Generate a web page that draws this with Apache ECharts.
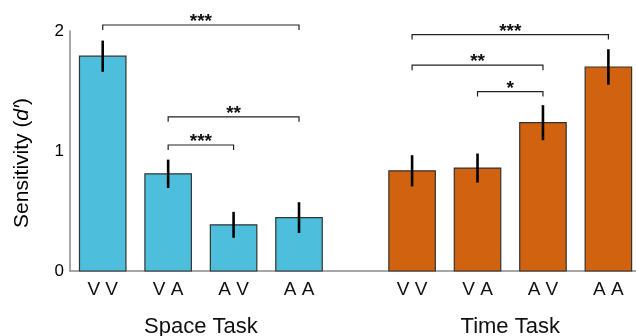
<!DOCTYPE html>
<html>
<head>
<meta charset="utf-8">
<style>html,body{margin:0;padding:0;background:#fff;}#chart{width:636px;height:336px;}</style>
<script src="https://cdn.jsdelivr.net/npm/echarts@6/dist/echarts.min.js"></script>
</head>
<body>
<div id="chart"></div>
<script>
// ---- data ----
const categories = ['V V', 'V A', 'A V', 'A A'];
const groups = ['Space Task', 'Time Task'];
const spaceValues = [1.79, 0.81, 0.385, 0.445];
const spaceErrors = [0.13, 0.118, 0.108, 0.128];
const timeValues = [0.835, 0.858, 1.236, 1.70];
const timeErrors = [0.13, 0.121, 0.146, 0.148];
const yTicks = [0, 1, 2];
// brackets: [group, fromCategory, toCategory, height, label]
const brackets = [
  [0, 0, 3, 2.05, '***'],
  [0, 1, 3, 1.285, '**'],
  [0, 1, 2, 1.05, '***'],
  [1, 0, 3, 1.97, '***'],
  [1, 0, 2, 1.715, '**'],
  [1, 1, 2, 1.495, '*']
];

// ---- layout constants ----
const groupOffset = 4.728;
const colors = ['#4dbfdc', '#d1620f'];
const FONT = '"Liberation Sans", Arial, Helvetica, sans-serif';
const pos = (g, i) => 1 + i + g * groupOffset;

const barData = [];
[[spaceValues, spaceErrors], [timeValues, timeErrors]].forEach(([vals, errs], g) => {
  vals.forEach((v, i) => barData.push([pos(g, i), v, errs[i], g, i]));
});
const groupData = groups.map((name, g) => [pos(g, 1.5), g]);
const bracketData = brackets.map((b, k) => [pos(b[0], b[1]), pos(b[0], b[2]), b[3], k]);

const chart = echarts.init(document.getElementById('chart'));
chart.setOption({
  animation: false,
  backgroundColor: '#fff',
  grid: { left: 70, right: 0, top: 31, bottom: 65 },
  xAxis: {
    type: 'value', min: 0.5, max: 9.15,
    axisLine: { show: true, onZero: true, lineStyle: { color: '#8a8a8a', width: 1.5 } },
    axisTick: { show: false }, axisLabel: { show: false }, splitLine: { show: false }
  },
  yAxis: {
    type: 'value', min: 0, max: 2, interval: 1,
    axisLine: { show: true, lineStyle: { color: '#8a8a8a', width: 1.5 } },
    axisTick: { show: false }, splitLine: { show: false },
    axisLabel: {
      show: true, margin: 6, fontSize: 17, color: '#000', fontFamily: FONT,
      padding: [0, 0, 11, 0],
      formatter: v => (yTicks.indexOf(v) >= 0 ? String(v) : '')
    },
    name: 'Sensitivity ({i|d′})',
    nameLocation: 'middle', nameRotate: 90, nameGap: 37,
    nameTextStyle: {
      fontSize: 21, color: '#000', fontFamily: FONT,
      padding: [0, 24, 0, 0],
      rich: { i: { fontSize: 21, fontStyle: 'italic', color: '#000', fontFamily: FONT } }
    }
  },
  series: [
    {
      type: 'custom', clip: false, data: barData,
      encode: { x: 0, y: 1 },
      renderItem: (params, api) => {
        const x = api.value(0), y = api.value(1), e = api.value(2), g = api.value(3), i = api.value(4);
        const hw = 0.355;
        const p0 = api.coord([x - hw, 0]);
        const p1 = api.coord([x + hw, y]);
        const eTop = api.coord([x, y + e]);
        const eBot = api.coord([x, y - e]);
        const base = api.coord([x, 0]);
        return {
          type: 'group',
          children: [
            { type: 'rect', shape: { x: p0[0], y: p1[1], width: p1[0] - p0[0], height: p0[1] - p1[1] },
              style: { fill: colors[g], stroke: '#333', lineWidth: 1.2 } },
            { type: 'line', shape: { x1: eTop[0], y1: eTop[1], x2: eBot[0], y2: eBot[1] },
              style: { stroke: '#000', lineWidth: 2.6 } },
            { type: 'text', x: base[0], y: base[1] + 19,
              style: { text: categories[i], fontSize: 19, fontFamily: FONT, fill: '#111', align: 'center', verticalAlign: 'middle' } }
          ]
        };
      }
    },
    {
      type: 'custom', clip: false, data: groupData,
      encode: { x: 0 },
      renderItem: (params, api) => {
        const c = api.coord([api.value(0), 0]);
        return { type: 'text', x: c[0], y: c[1] + 56,
          style: { text: groups[api.value(1)], fontSize: 22, fontFamily: FONT, fill: '#111', align: 'center', verticalAlign: 'middle' } };
      }
    },
    {
      type: 'custom', clip: false, data: bracketData,
      encode: { x: [0, 1], y: 2 },
      renderItem: (params, api) => {
        const a = api.coord([api.value(0), api.value(2)]);
        const b = api.coord([api.value(1), api.value(2)]);
        const label = brackets[api.value(3)][4];
        return {
          type: 'group',
          children: [
            { type: 'polyline', shape: { points: [[a[0], a[1] + 5], [a[0], a[1]], [b[0], b[1]], [b[0], b[1] + 5]] },
              style: { stroke: '#222', lineWidth: 1.2, fill: null } },
            { type: 'text', x: (a[0] + b[0]) / 2, y: a[1] - 3,
              style: { text: label, fontSize: 19, fontWeight: 'bold', fontFamily: FONT, fill: '#111', align: 'center', verticalAlign: 'middle' } }
          ]
        };
      }
    }
  ]
});
</script>
</body>
</html>
